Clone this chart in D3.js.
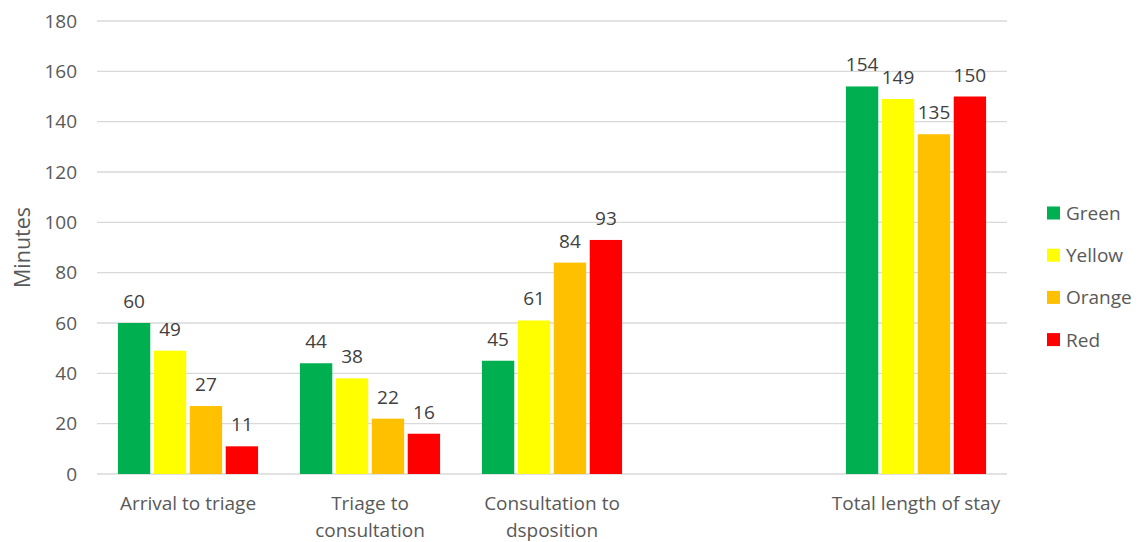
<!DOCTYPE html>
<html><head><meta charset="utf-8">
<script src="https://cdn.jsdelivr.net/npm/d3@7"></script>
<style>body{margin:0;background:#fff}svg{display:block}</style>
</head><body>
<svg id="c" width="1138" height="542"></svg>
<script>
const categories = [["Arrival to triage"], ["Triage to", "consultation"], ["Consultation to", "dsposition"], [""], ["Total length of stay"]];
const seriesNames = ["Green", "Yellow", "Orange", "Red"];
const seriesColors = ["#00B050", "#FFFF00", "#FFC000", "#FF0000"];
const green  = [60, 44, 45, null, 154];
const yellow = [49, 38, 61, null, 149];
const orange = [27, 22, 84, null, 135];
const red    = [11, 16, 93, null, 150];
const yTicks = [0, 20, 40, 60, 80, 100, 120, 140, 160, 180];

const series = [green, yellow, orange, red];
const svg = d3.select("#c");
const font = "'Open Sans', sans-serif";
const fs = 19;
const m = {l: 97, r: 131, t: 21, b: 68};
const W = 1138, H = 542;
const x = d3.scaleBand().domain(d3.range(categories.length)).range([m.l, W - m.r]).paddingInner(0).paddingOuter(0);
const y = d3.scaleLinear().domain([0, 180]).range([H - m.b, m.t]);
const groupW = x.bandwidth() * 0.77;
const x1 = d3.scaleBand().domain(d3.range(4)).range([0, groupW]).paddingInner(0.1);

// grid
svg.append("g").selectAll("line").data(yTicks).join("line")
  .attr("x1", m.l).attr("x2", W - m.r)
  .attr("y1", d => y(d)).attr("y2", d => y(d))
  .attr("stroke", "#d9d9d9").attr("stroke-width", 1.3);

// y axis labels
const ya = svg.append("g").attr("transform", `translate(${m.l - 20},0)`)
  .call(d3.axisLeft(y).tickValues(yTicks).tickSize(0).tickPadding(0));
ya.select(".domain").remove();
ya.selectAll("text").attr("font-family", font).attr("font-size", fs).attr("fill", "#595959");

// y title
svg.append("text").attr("transform", `translate(30,${(y(0)+y(180))/2}) rotate(-90)`)
  .attr("text-anchor", "middle").attr("font-family", font).attr("font-size", 21.5).attr("fill", "#595959").text("Minutes");

// bars
series.forEach((s, si) => {
  const g = svg.append("g");
  const data = s.map((v, i) => ({v, i})).filter(d => d.v !== null);
  g.selectAll("rect").data(data).join("rect")
    .attr("x", d => x(d.i) + (x.bandwidth() - groupW) / 2 + x1(si))
    .attr("width", x1.bandwidth())
    .attr("y", d => y(d.v)).attr("height", d => y(0) - y(d.v))
    .attr("fill", seriesColors[si]);
  g.selectAll("text").data(data).join("text")
    .attr("x", d => x(d.i) + (x.bandwidth() - groupW) / 2 + x1(si) + x1.bandwidth() / 2)
    .attr("y", d => y(d.v) - 15)
    .attr("text-anchor", "middle").attr("font-family", font).attr("font-size", fs).attr("fill", "#404040")
    .text(d => d.v);
});

// x labels
const xl = svg.append("g");
categories.forEach((lines, i) => {
  const t = xl.append("text").attr("text-anchor", "middle").attr("font-family", font).attr("font-size", fs).attr("fill", "#595959");
  lines.forEach((ln, j) => t.append("tspan").attr("x", x(i) + x.bandwidth() / 2).attr("y", 510 + j * 27).text(ln));
});

// legend
const lg = svg.append("g");
seriesNames.forEach((n, i) => {
  const cy = 213 + i * 42.2;
  lg.append("rect").attr("x", 1047).attr("y", cy - 6.5).attr("width", 13).attr("height", 13).attr("fill", seriesColors[i]);
  lg.append("text").attr("x", 1066).attr("y", cy + 7).attr("font-family", font).attr("font-size", fs).attr("fill", "#595959").text(n);
});
</script>
</body></html>
